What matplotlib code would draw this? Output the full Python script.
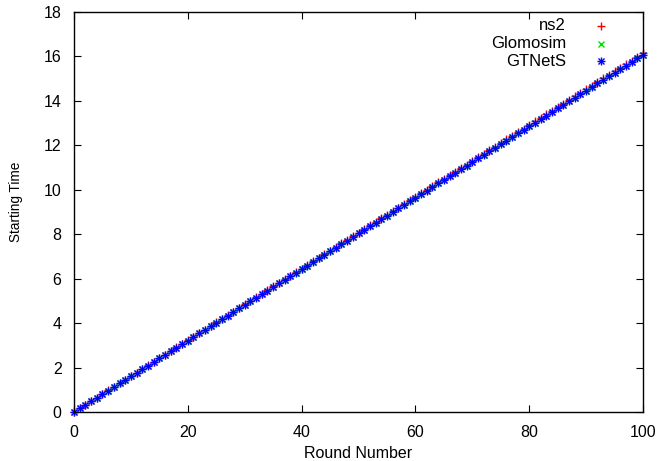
import matplotlib
matplotlib.use("Agg")
import matplotlib.pyplot as plt

plt.rcParams['font.family'] = ['Liberation Sans', 'DejaVu Sans']

rounds = list(range(101))

ns2 = [0.000, 0.161, 0.323, 0.484, 0.646, 0.807, 0.968, 1.130, 1.291, 1.453,
       1.614, 1.775, 1.937, 2.098, 2.260, 2.421, 2.582, 2.744, 2.905, 3.067,
       3.228, 3.389, 3.551, 3.712, 3.874, 4.035, 4.196, 4.358, 4.519, 4.681,
       4.842, 5.003, 5.165, 5.326, 5.488, 5.649, 5.810, 5.972, 6.133, 6.295,
       6.456, 6.617, 6.779, 6.940, 7.102, 7.263, 7.424, 7.586, 7.747, 7.909,
       8.070, 8.231, 8.393, 8.554, 8.716, 8.877, 9.038, 9.200, 9.361, 9.523,
       9.684, 9.845, 10.007, 10.168, 10.330, 10.491, 10.652, 10.814, 10.975, 11.137,
       11.298, 11.459, 11.621, 11.782, 11.944, 12.105, 12.266, 12.428, 12.589, 12.751,
       12.912, 13.073, 13.235, 13.396, 13.558, 13.719, 13.880, 14.042, 14.203, 14.365,
       14.526, 14.687, 14.849, 15.010, 15.172, 15.333, 15.494, 15.656, 15.817, 15.979,
       16.140]

glomosim = [0.000, 0.161, 0.321, 0.482, 0.643, 0.804, 0.964, 1.125, 1.286, 1.446,
            1.607, 1.768, 1.928, 2.089, 2.250, 2.411, 2.571, 2.732, 2.893, 3.053,
            3.214, 3.375, 3.535, 3.696, 3.857, 4.018, 4.178, 4.339, 4.500, 4.660,
            4.821, 4.982, 5.142, 5.303, 5.464, 5.625, 5.785, 5.946, 6.107, 6.267,
            6.428, 6.589, 6.749, 6.910, 7.071, 7.232, 7.392, 7.553, 7.714, 7.874,
            8.035, 8.196, 8.356, 8.517, 8.678, 8.839, 8.999, 9.160, 9.321, 9.481,
            9.642, 9.803, 9.963, 10.124, 10.285, 10.446, 10.606, 10.767, 10.928, 11.088,
            11.249, 11.410, 11.570, 11.731, 11.892, 12.053, 12.213, 12.374, 12.535, 12.695,
            12.856, 13.017, 13.177, 13.338, 13.499, 13.660, 13.820, 13.981, 14.142, 14.302,
            14.463, 14.624, 14.784, 14.945, 15.106, 15.267, 15.427, 15.588, 15.749, 15.909,
            16.070]

gtnets = [0.000, 0.161, 0.321, 0.482, 0.643, 0.804, 0.964, 1.125, 1.286, 1.446,
          1.607, 1.768, 1.928, 2.089, 2.250, 2.411, 2.571, 2.732, 2.893, 3.053,
          3.214, 3.375, 3.535, 3.696, 3.857, 4.018, 4.178, 4.339, 4.500, 4.660,
          4.821, 4.982, 5.142, 5.303, 5.464, 5.625, 5.785, 5.946, 6.107, 6.267,
          6.428, 6.589, 6.749, 6.910, 7.071, 7.232, 7.392, 7.553, 7.714, 7.874,
          8.035, 8.196, 8.356, 8.517, 8.678, 8.839, 8.999, 9.160, 9.321, 9.481,
          9.642, 9.803, 9.963, 10.124, 10.285, 10.446, 10.606, 10.767, 10.928, 11.088,
          11.249, 11.410, 11.570, 11.731, 11.892, 12.053, 12.213, 12.374, 12.535, 12.695,
          12.856, 13.017, 13.177, 13.338, 13.499, 13.660, 13.820, 13.981, 14.142, 14.302,
          14.463, 14.624, 14.784, 14.945, 15.106, 15.267, 15.427, 15.588, 15.749, 15.909,
          16.070]

series_names = ["ns2", "Glomosim", "GTNetS"]
x_ticks = [0, 20, 40, 60, 80, 100]
y_ticks = [0, 2, 4, 6, 8, 10, 12, 14, 16, 18]

RED = "#ff0000"
GREEN = "#00e000"
BLUE = "#0000ff"

fig = plt.figure(figsize=(6.59, 4.61), dpi=100)
ax = fig.add_axes([74 / 659, 1 - 412 / 461, (643 - 74) / 659, 400 / 461])

ms = 5.5
mew = 1.0
ax.plot(rounds, ns2, linestyle="none", marker="+", color=RED, ms=ms, mew=mew, clip_on=False)
ax.plot(rounds, glomosim, linestyle="none", marker="x", color=GREEN, ms=ms * 0.8, mew=mew, clip_on=False)
ax.plot(rounds, gtnets, linestyle="none", marker="+", color=BLUE, ms=ms, mew=mew, clip_on=False)
ax.plot(rounds, gtnets, linestyle="none", marker="x", color=BLUE, ms=ms * 0.8, mew=mew, clip_on=False)

ax.set_xlim(0, 100)
ax.set_ylim(0, 18)
ax.set_xticks(x_ticks)
ax.set_yticks(y_ticks)
ax.tick_params(direction="in", top=True, right=True, length=5, width=0.8,
               labelsize=11.5)
ax.tick_params(axis="x", pad=9)
ax.tick_params(axis="y", pad=9)
for s in ax.spines.values():
    s.set_linewidth(1.0)

ax.set_xlabel("Round Number", fontsize=11.5)
ax.xaxis.set_label_coords(0.5, (412 - 453) / 400)
ax.set_ylabel("Starting Time", fontsize=9.8)
ax.yaxis.set_label_coords((16 - 74) / 569, (412 - 202) / 400)
ax.xaxis.label.set_va("center")
ax.yaxis.label.set_va("center")

# legend (gnuplot style: right-aligned text, sample to the right)
text_x = 0.865
mark_x = 0.9257
rows_y = [0.965, 0.921, 0.8775]
markers = [[("+", RED, ms)], [("x", GREEN, ms * 0.8)], [("+", BLUE, ms), ("x", BLUE, ms * 0.8)]]
for name, yy, mk in zip(series_names, rows_y, markers):
    ax.text(text_x, yy, name, transform=ax.transAxes, ha="right", va="center", fontsize=12)
    for m, c, s in mk:
        ax.plot([mark_x], [yy], transform=ax.transAxes, linestyle="none", marker=m,
                color=c, ms=s, mew=mew, clip_on=False)

fig.savefig("out.png", dpi=100)
